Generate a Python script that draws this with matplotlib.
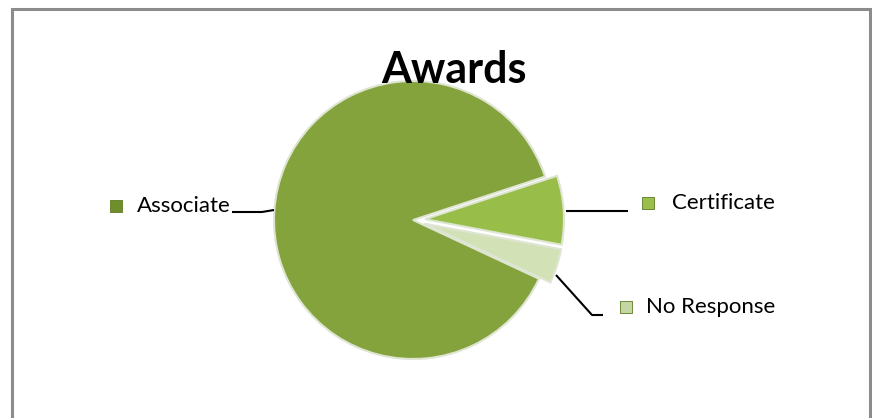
import matplotlib
matplotlib.use("Agg")
import matplotlib.pyplot as plt

# data (percent of responses)
categories = ["Associate", "Certificate", "No Response"]
values = [88, 8, 4]
slice_colors = ["#84a33c", "#98bd49", "#d2e2b6"]
marker_colors = ["#6f8f2c", "#9bbf4c", "#c3d6a3"]

W, H = 872, 418
plt.rcParams['font.family'] = ['Lato', 'DejaVu Sans']

fig = plt.figure(figsize=(W / 100, H / 100), dpi=100)
ax = fig.add_axes([0, 0, 1, 1])
ax.axis('off')

# work in pixel-like units (y measured from the top)
def py(y):
    return H - y

# chart border (bottom edge runs off the picture)
ax.plot([12, 12, 870, 870], [py(418), py(9), py(9), py(418)],
        color="#8c8c8c", lw=2.2, solid_joinstyle='miter')

wedges, _ = ax.pie(values, explode=[0, 12, 12], startangle=-25, counterclock=False,
                   radius=139, center=(413, py(220)), colors=slice_colors,
                   wedgeprops=dict(edgecolor="#dfe5d3", linewidth=1.5))
ax.set_xlim(0, W)
ax.set_ylim(0, H)
ax.set_aspect('auto')

# leader lines
leaders = [
    ([232, 262, 274], [212, 212, 210]),
    ([566, 628], [211, 211]),
    ([556, 592, 603], [275, 315, 315]),
]
for xs, ys in leaders:
    ax.plot(xs, [py(v) for v in ys], color="black", lw=1.5, solid_capstyle='butt')

# labels with legend-key squares
label_pos = [(116, 137, 206), (648, 672, 203), (626, 646, 307)]
for cat, mc, (mx, tx, ty) in zip(categories, marker_colors, label_pos):
    ax.scatter([mx], [py(ty)], marker='s', s=72, color=mc, edgecolors="#5e7a22", linewidths=0.6, zorder=5)
    ax.text(tx, py(ty), cat, fontsize=16, va='center', ha='left', color="black")

ax.text(454, py(83), "Awards", fontsize=31, fontweight='bold', ha='center', va='baseline', zorder=10)

fig.savefig("out.png", dpi=100)
